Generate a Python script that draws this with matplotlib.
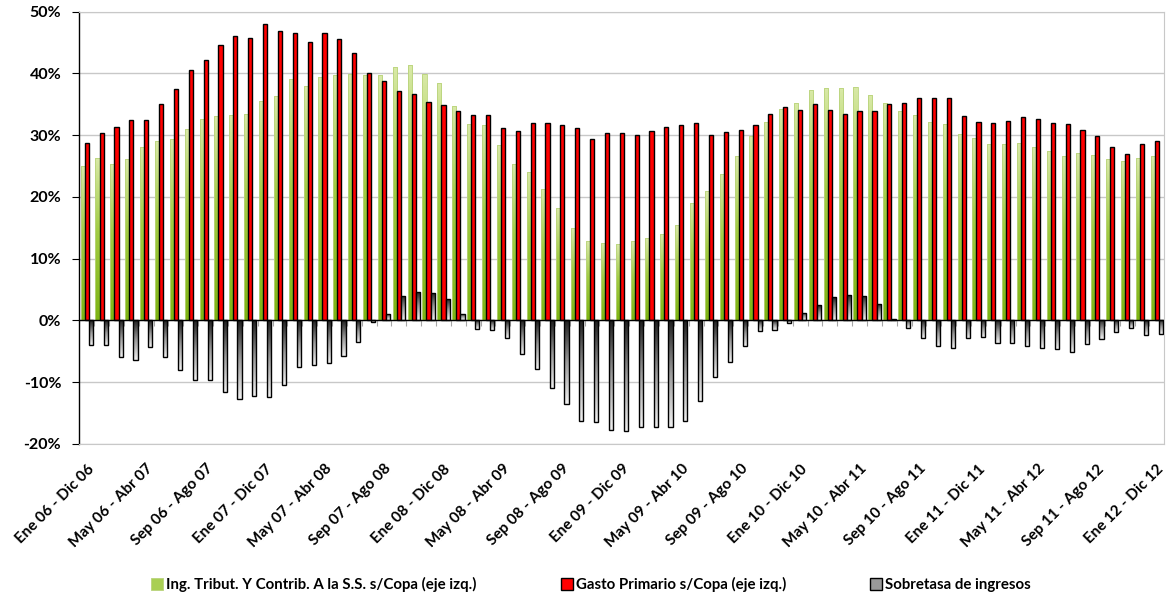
import numpy as np
import matplotlib.pyplot as plt
from matplotlib.colors import LinearSegmentedColormap
from matplotlib.patches import Patch
from matplotlib.ticker import FuncFormatter

plt.rcParams['font.family'] = ['Lato', 'DejaVu Sans']
plt.rcParams['font.weight'] = 'bold'

# Ingresos tributarios y contribuciones a la S.S. sobre coparticipación (%)
ing = [25.0, 26.3, 25.4, 26.1, 28.1, 29.1, 29.3, 31.0, 32.6, 33.1,
       33.2, 33.5, 35.5, 36.3, 39.1, 37.9, 39.5, 39.7, 39.9, 39.7,
       39.7, 41.0, 41.3, 39.9, 38.4, 34.8, 31.8, 31.6, 28.4, 25.3,
       24.0, 21.2, 18.2, 14.9, 12.8, 12.5, 12.3, 12.8, 13.3, 14.0,
       15.4, 19.0, 20.9, 23.7, 26.7, 29.9, 32.1, 34.3, 35.2, 37.3,
       37.6, 37.6, 37.8, 36.5, 35.2, 33.9, 33.2, 32.1, 31.8, 30.2,
       29.5, 28.5, 28.6, 28.8, 28.1, 27.4, 26.7, 27.1, 26.8, 26.1,
       25.8, 26.3, 26.7]

# Gasto primario sobre coparticipación (%)
gasto = [28.8, 30.3, 31.4, 32.5, 32.4, 35.0, 37.4, 40.5, 42.1, 44.6,
         46.0, 45.8, 48.0, 46.8, 46.5, 45.1, 46.5, 45.5, 43.3, 40.0,
         38.8, 37.2, 36.7, 35.3, 34.9, 33.9, 33.2, 33.2, 31.2, 30.7,
         31.9, 32.0, 31.7, 31.2, 29.3, 30.4, 30.3, 30.1, 30.6, 31.3,
         31.7, 31.9, 30.1, 30.5, 30.8, 31.7, 33.5, 34.6, 34.0, 35.0,
         34.0, 33.5, 33.9, 33.9, 35.0, 35.2, 36.0, 36.1, 36.1, 33.1,
         32.1, 32.0, 32.3, 32.9, 32.6, 32.0, 31.8, 30.8, 29.9, 28.1,
         27.0, 28.6, 29.1]

# Sobretasa de ingresos (%)
sobretasa = [-4.0, -4.0, -6.0, -6.4, -4.3, -5.9, -8.1, -9.6, -9.6, -11.6,
             -12.7, -12.3, -12.5, -10.5, -7.5, -7.2, -7.0, -5.8, -3.5, -0.3,
             1.0, 3.9, 4.6, 4.5, 3.5, 1.0, -1.35, -1.6, -2.8, -5.4,
             -7.9, -10.9, -13.5, -16.3, -16.5, -17.8, -17.9, -17.3, -17.3, -17.3,
             -16.3, -13.0, -9.2, -6.8, -4.1, -1.7, -1.5, -0.4, 1.2, 2.4,
             3.7, 4.1, 3.9, 2.6, 0.2, -1.3, -2.8, -4.2, -4.5, -2.9,
             -2.7, -3.6, -3.7, -4.2, -4.5, -4.6, -5.1, -3.8, -3.1, -1.9,
             -1.2, -2.4, -2.3]

etiquetas = ['Ene 06 - Dic 06', 'May 06 - Abr 07', 'Sep 06 - Ago 07',
             'Ene 07 - Dic 07', 'May 07 - Abr 08', 'Sep 07 - Ago 08',
             'Ene 08 - Dic 08', 'May 08 - Abr 09', 'Sep 08 - Ago 09',
             'Ene 09 - Dic 09', 'May 09 - Abr 10', 'Sep 09 - Ago 10',
             'Ene 10 - Dic 10', 'May 10 - Abr 11', 'Sep 10 - Ago 11',
             'Ene 11 - Dic 11', 'May 11 - Abr 12', 'Sep 11 - Ago 12',
             'Ene 12 - Dic 12']

series = ['Ing. Tribut. Y Contrib. A la S.S. s/Copa (eje izq.)',
          'Gasto Primario s/Copa (eje izq.)',
          'Sobretasa de ingresos']

# degradados
verde = LinearSegmentedColormap.from_list(
    'verde', [(0, '#7db414'), (0.55, '#a2cc44'), (1, '#d8e9a6')])
gris = LinearSegmentedColormap.from_list('gris', ['#f0f0f0', '#9a9a9a', '#202020'])
grad = np.linspace(0, 1, 64).reshape(-1, 1)


def rellenar(ax, barras, cmap, z):
    # pinta cada barra con un degradado vertical recortado a su forma
    for p in barras:
        x0 = p.get_x()
        y0 = p.get_y()
        h = p.get_height()
        lo, hi = min(y0, y0 + h), max(y0, y0 + h)
        im = ax.imshow(grad, cmap=cmap, origin='lower', aspect='auto',
                       extent=(x0, x0 + p.get_width(), lo, hi),
                       zorder=z, interpolation='bilinear')
        im.set_clip_path(p)


fig = plt.figure(figsize=(11.66, 6.01), dpi=100)
ax = fig.add_axes([0.068, 0.2617, 0.9305, 0.7188])

x = np.arange(len(ing))
w = 0.28

b1 = ax.bar(x - 0.27, ing, w, facecolor='none', edgecolor='#b9d37c',
            linewidth=0.6, zorder=2.1)
rellenar(ax, b1, verde, 2)
ax.bar(x, gasto, w, color='#ff0000', edgecolor='#000000', linewidth=1.0, zorder=3)
b3 = ax.bar(x + 0.28, sobretasa, w, facecolor='none', edgecolor='#000000',
            linewidth=1.0, zorder=4.1)
rellenar(ax, b3, gris, 4)

ax.set_xlim(-0.5, len(ing) - 0.5)
ax.set_ylim(-20, 50)
ax.set_yticks(np.arange(-20, 51, 10))
ax.yaxis.set_major_formatter(FuncFormatter(lambda v, _: f'{v:.0f}%'))
ax.grid(axis='y', color='#c8c8c8', linewidth=1.0, zorder=0)
ax.set_axisbelow(True)
ax.axhline(0, color='#000000', linewidth=1.0, zorder=5)

# marcas del eje de categorías sobre la línea de cero
ax.vlines(np.arange(-0.5, len(ing)), -0.9, 0, color='#a6a6a6', linewidth=0.8, zorder=1)

for s in ['top', 'right', 'bottom']:
    ax.spines[s].set_color('#c8c8c8')
ax.spines['left'].set_color('#000000')
ax.spines['left'].set_linewidth(1.0)

ax.tick_params(axis='y', length=5, width=0.8, color='#000000', labelsize=11.5, pad=8)
ax.set_xticks(x[::4])
ax.set_xticklabels(etiquetas, rotation=45, ha='right', va='top',
                   rotation_mode='anchor', fontsize=11)
ax.tick_params(axis='x', length=0, pad=13)

handles = [Patch(facecolor='#a9cf54', edgecolor='#b9d37c', linewidth=0.6),
           Patch(facecolor='#ff0000', edgecolor='#000000', linewidth=1.0),
           Patch(facecolor='#9a9a9a', edgecolor='#000000', linewidth=1.0)]
fig.legend(handles, series, loc='center', bbox_to_anchor=(0.507, 0.027), ncol=3,
           frameon=False, fontsize=10.8, handlelength=0.8, handleheight=0.8,
           handletextpad=0.2, columnspacing=5.6)

fig.savefig('out.png', dpi=100)
